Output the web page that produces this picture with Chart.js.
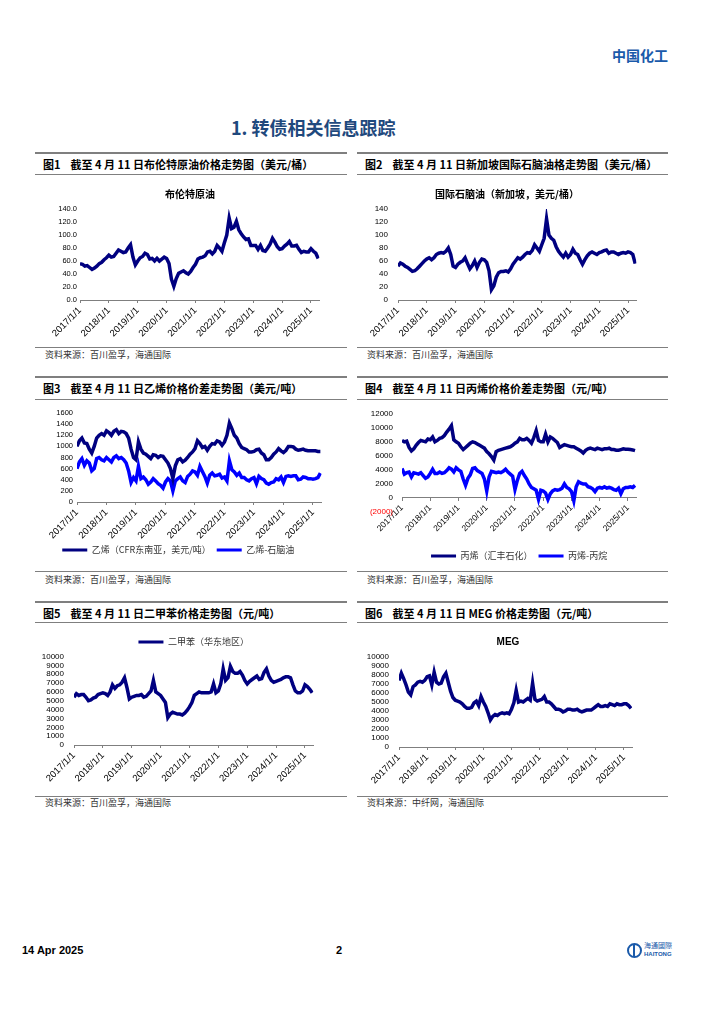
<!DOCTYPE html>
<html lang="zh-CN">
<head>
<meta charset="utf-8">
<title>中国化工 - 转债相关信息跟踪</title>
<script src="https://cdn.jsdelivr.net/npm/chart.js@4.4.1/dist/chart.umd.min.js"></script>
<style>
  html, body { margin: 0; padding: 0; background: #fff; }
  body { width: 725px; height: 1024px; position: relative; overflow: hidden;
         font-family: "Noto Sans CJK SC", "Liberation Sans", sans-serif; color: #000; }
  .abs { position: absolute; white-space: nowrap; }
  .hdr { left: 612px; top: 45px; font-size: 14px; font-weight: 700; color: #1a5aaa; line-height: 20px; }
  .sec { left: 231px; top: 114px; font-size: 18px; font-weight: 700; color: #1f497d; line-height: 26px; }
  .rule { position: absolute; height: 0; border-top: 1px solid #7f7f7f; }
  .cap { font-size: 11px; font-weight: 700; line-height: 14px; }
  .src { font-size: 9px; color: #333; line-height: 12px; }
  .ttl { font-size: 10px; font-weight: 700; line-height: 12px; transform: translateX(-50%); z-index: 2; }
  .box { position: absolute; }
  .foot { font-size: 11px; font-weight: 700; line-height: 14px; font-family: "Liberation Sans", sans-serif; }
</style>
</head>
<body>
<div class="abs hdr">中国化工</div>
<div class="abs sec">1. 转债相关信息跟踪</div>

<div class="abs ttl" style="left:190px;top:188px">布伦特原油</div>
<div class="abs ttl" style="left:507px;top:188px">国际石脑油（新加坡，美元/桶）</div>
<div class="abs ttl" style="left:508px;top:636px;font-family:'Liberation Sans',sans-serif">MEG</div>

<div class="box" style="left:35px;top:180px;width:312px;height:165px"><canvas id="c1"></canvas></div>
<div class="box" style="left:357px;top:180px;width:311px;height:165px"><canvas id="c2"></canvas></div>
<div class="box" style="left:35px;top:400px;width:312px;height:171px"><canvas id="c3"></canvas></div>
<div class="box" style="left:357px;top:400px;width:311px;height:171px"><canvas id="c4"></canvas></div>
<div class="box" style="left:35px;top:625px;width:312px;height:171px"><canvas id="c5"></canvas></div>
<div class="box" style="left:357px;top:625px;width:311px;height:171px"><canvas id="c6"></canvas></div>

<div class="abs foot" style="left:22px;top:943px">14 Apr 2025</div>
<div class="abs foot" style="left:336px;top:943px">2</div>
<div class="abs" style="left:627px;top:943px;width:15px;height:15px;border:2px solid #1a5aaa;border-radius:50%;box-sizing:border-box"></div>
<div class="abs" style="left:633px;top:944px;width:2px;height:13px;background:#1a5aaa"></div>
<div class="abs" style="left:644px;top:941px;font-size:7px;line-height:8px;color:#1a5aaa">海通國際</div>
<div class="abs" style="left:644px;top:950px;font-size:6px;line-height:8px;font-weight:700;color:#1a5aaa;font-family:'Liberation Sans',sans-serif">HAITONG</div>

<script>
// 月度数据 2017/1 - 2025/4（每年 12 个点）
const yearLabels = ["2017/1/1", "2018/1/1", "2019/1/1", "2020/1/1", "2021/1/1", "2022/1/1", "2023/1/1", "2024/1/1", "2025/1/1"];

const brent = [
  56, 55, 52, 53, 50, 47, 49, 52, 56, 58, 62, 65,
  69, 66, 67, 72, 77, 75, 73, 74, 80, 85, 66, 54,
  60, 65, 67, 72, 70, 63, 64, 60, 64, 60, 63, 66,
  64, 56, 32, 21, 33, 41, 43, 45, 42, 40, 44, 50,
  55, 63, 65, 66, 68, 74, 75, 71, 75, 84, 80, 75,
  88, 100, 126, 110, 112, 121, 108, 102, 97, 93, 94, 84,
  84, 84, 78, 84, 76, 75, 80, 86, 95, 89, 82, 78,
  79, 83, 86, 90, 83, 83, 84, 78, 73, 75, 74, 74,
  79, 75, 72, 64,
];
const naphtha = [
  52, 57, 55, 52, 50, 47, 44, 45, 48, 52, 56, 60,
  63, 65, 62, 65, 70, 72, 73, 72, 75, 80, 70, 52,
  50, 55, 58, 60, 65, 56, 48, 53, 60, 50, 58, 63,
  62, 58, 45, 16, 22, 35, 42, 44, 44, 45, 43, 48,
  55, 60, 65, 63, 66, 70, 73, 72, 76, 85, 80, 75,
  85, 95, 125, 100, 95, 92, 82, 75, 70, 66, 72, 66,
  70, 78, 72, 70, 62, 55, 62, 68, 72, 74, 72, 70,
  73, 74, 76, 77, 72, 74, 74, 72, 70, 72, 73, 72,
  74, 73, 70, 56,
];
const ethylene = [
  1000, 1100, 1150, 1060, 1050, 950, 880, 1000, 1150, 1200, 1230, 1200,
  1280, 1250, 1200, 1270, 1300, 1230, 1270, 1260, 1230, 1150, 950, 800,
  760, 1080, 950, 880, 860, 820, 780, 850, 840, 800, 830, 820,
  760, 700, 600, 420, 650, 760, 780, 720, 750, 800, 860, 900,
  960, 1100, 1050, 980, 1000, 930, 1000, 1050, 1040, 1100, 1080, 1020,
  1080, 1200, 1420, 1320, 1200, 1150, 1050, 980, 960, 940, 900, 900,
  910, 940, 950, 880, 850, 760, 760, 800, 860, 900, 960, 920,
  890, 930, 1000, 1000, 990, 950, 930, 940, 950, 930, 920, 920,
  920, 920, 910, 910,
];
const ethyleneSpread = [
  600, 720, 780, 660, 740, 700, 560, 600, 780, 800, 760, 740,
  800, 760, 720, 800, 830, 780, 800, 760, 700, 560, 350, 440,
  380, 640, 420, 450, 400, 320, 360, 420, 380, 330, 300, 250,
  360, 420, 380, 200, 380, 420, 450, 380, 350, 460, 500, 560,
  540, 480, 640, 550, 460, 340, 480, 520, 470, 480, 500, 430,
  450, 380, 740, 580, 540, 480, 520, 440, 440, 400, 380, 420,
  440, 330, 460, 420, 400, 340, 320, 350, 360, 420, 400, 450,
  350, 460, 470, 460, 470, 470, 400, 410, 450, 440, 420, 420,
  410, 420, 440, 520,
];
const propylene = [
  8200, 8000, 8100, 7200, 6700, 7000, 7500, 7900, 8200, 8100, 8000, 8400,
  8300, 8700, 8000, 8200, 8500, 8600, 8900, 9400, 9800, 10300, 8300, 8000,
  7800, 7300, 6900, 7200, 7500, 7800, 8000, 7900, 7700, 7500, 7300, 7100,
  6600, 6300, 5900, 5400, 6600, 6800, 6900, 7000, 7100, 7200, 7300, 7500,
  7800, 8000, 8500, 8300, 8300, 8500, 8200, 7800, 8600, 9600, 8200, 8000,
  8000, 9100, 8000, 8700, 8500, 8200, 7900, 7200, 7400, 7600, 7500, 7400,
  7300, 7300, 7100, 6900, 6700, 6400, 6800, 7000, 7100, 7000, 6900, 7100,
  7000, 6900, 7000, 7000, 7100, 6900, 6900, 6800, 6800, 6900, 7000, 6950,
  6950, 6900, 6850, 6750,
];
const propyleneSpread = [
  4200, 3400, 3600, 3700, 3000, 3600, 3500, 3400, 3600, 3200, 2800, 3000,
  3500, 4100, 3500, 3500, 3700, 3500, 3600, 3900, 4300, 4100, 3700, 4300,
  4000, 3800, 2700, 1800, 2800, 3300, 4200, 4300, 3900, 3700, 3500, 2700,
  1000, 3000, 3800, 3700, 3600, 3700, 3600, 3800, 4100, 3700, 3400, 3100,
  1200, 2500, 3500, 3800, 3200, 2700, 2000, 1500, 1300, 1100, -200, 1100,
  1000, 700, -200, 600, 1000, 1200, 1100, 1200, 1400, 2000, 1500, 1300,
  900, -400, 1600, 2300, 2100, 2000, 2000, 1600, 1500, 1300, 900, 1400,
  1500, 1400, 1600, 1400, 1500, 1400, 1200, 1100, 1400, 600, 1300, 1500,
  1500, 1600, 1500, 1800,
];
const xylene = [
  5400, 5800, 5600, 5700, 5700, 5400, 5000, 5100, 5300, 5400, 5700, 5800,
  5900, 5800, 5600, 6000, 6800, 6400, 6700, 6800, 7100, 7600, 6500, 5200,
  5400, 5500, 5600, 5600, 5700, 5400, 5500, 5800, 6100, 7300, 6000, 5800,
  5600, 5200, 4800, 3100, 3500, 3700, 3600, 3500, 3500, 3400, 3600, 3900,
  4300, 4800, 5600, 5800, 6000, 5900, 5900, 5900, 5900, 6000, 6900, 5900,
  6100, 6900, 8600, 7300, 7600, 8900, 8300, 8100, 8100, 8300, 7900, 7300,
  6900, 7200, 7400, 7600, 7800, 7400, 7500, 8200, 8600, 7800, 7300, 7100,
  7200, 7300, 7400, 7600, 7700, 7700, 7600, 6800, 6100, 5900, 5900, 6100,
  6800, 6600, 6300, 5900,
];
const meg = [
  7400, 8200, 7600, 6900, 6100, 5800, 6700, 6900, 7200, 7300, 7200, 7400,
  7800, 7900, 6900, 8300, 7200, 7000, 7100, 7800, 8200, 7200, 6200, 5500,
  5200, 5100, 5000, 4800, 4500, 4300, 4300, 4400, 4900, 5100, 4600, 5600,
  5000, 4500, 3800, 3000, 3400, 3600, 3500, 3700, 3800, 3700, 3800, 3700,
  4200, 4900, 6300, 5000, 5100, 5000, 5200, 5400, 5200, 7100, 5300, 5100,
  5200, 5300, 5600, 5000, 5000, 4800, 4500, 4200, 4200, 4100, 3900, 4000,
  4200, 4200, 4100, 4100, 4200, 4000, 3900, 4000, 4100, 4100, 4100, 4300,
  4500, 4700, 4500, 4500, 4600, 4500, 4800, 4700, 4600, 4800, 4700, 4700,
  4800, 4800, 4600, 4300,
];

const captions = [
  ["图1", "截至 4 月 11 日布伦特原油价格走势图（美元/桶）"],
  ["图2", "截至 4 月 11 日新加坡国际石脑油格走势图（美元/桶）"],
  ["图3", "截至 4 月 11 日乙烯价格价差走势图（美元/吨）"],
  ["图4", "截至 4 月 11 日丙烯价格价差走势图（元/吨）"],
  ["图5", "截至 4 月 11 日二甲苯价格走势图（元/吨）"],
  ["图6", "截至 4 月 11 日 MEG 价格走势图（元/吨）"],
];
const sources = [
  "资料来源：百川盈孚，海通国际", "资料来源：百川盈孚，海通国际",
  "资料来源：百川盈孚，海通国际", "资料来源：百川盈孚，海通国际",
  "资料来源：百川盈孚，海通国际", "资料来源：中纤网，海通国际",
];

/* ---- 版面：标题框线、图注、来源 ---- */
const cols = [{ x: 35, w: 312 }, { x: 357, w: 311 }];
const rows = [
  { rule: 152, cap: 157, sub: 174, end: 347, src: 349 },
  { rule: 376, cap: 381, sub: 399, end: 571, src: 574 },
  { rule: 601, cap: 606, sub: 622, end: 796, src: 797 },
];

function el(cls, style, html) {
  const d = document.createElement("div");
  d.className = cls;
  d.style.cssText = style;
  d.innerHTML = html || "";
  document.body.appendChild(d);
}

captions.forEach((c, i) => {
  const col = cols[i % 2], row = rows[Math.floor(i / 2)];
  el("rule", `left:${col.x}px;top:${row.rule}px;width:${col.w}px;border-top-width:2px`);
  el("abs cap", `left:${col.x + 8}px;top:${row.cap}px`, `${c[0]}<span style="display:inline-block;width:10px"></span>${c[1]}`);
  el("rule", `left:${col.x}px;top:${row.sub}px;width:${col.w}px`);
  el("rule", `left:${col.x}px;top:${row.end}px;width:${col.w}px`);
  el("abs src", `left:${col.x + 10}px;top:${row.src}px`, sources[i]);
});

/* ---- 图表 ---- */
const TICK_FONT = "'Liberation Sans', Arial, sans-serif";
const CJK_FONT = "'Noto Sans CJK SC', sans-serif";
const NAVY = "#000080";
const BLUE = "#0000ff";

const pts = (arr) => arr.map((v, i) => ({ x: i, y: v }));

function series(label, data, color) {
  return {
    label, data: pts(data), borderColor: color, backgroundColor: color,
    borderWidth: 3.5, pointRadius: 0, tension: 0, fill: false,
  };
}

function legendOpts(position, extra) {
  return Object.assign({
    display: true, position, fullSize: false,
    labels: {
      boxWidth: 25, boxHeight: 3, padding: 6, color: "#333",
      font: { family: CJK_FONT, size: 9 },
      generateLabels: (chart) =>
        Chart.defaults.plugins.legend.labels.generateLabels(chart).map((l) => ({ ...l, lineWidth: 0 })),
    },
  }, extra);
}

function lineChart(id, o) {
  return new Chart(document.getElementById(id), {
    type: "line",
    data: { datasets: o.datasets },
    options: {
      responsive: true,
      maintainAspectRatio: false,
      animation: false,
      events: [],
      layout: { padding: o.pad },
      plugins: {
        legend: o.legend || { display: false },
        tooltip: { enabled: false },
      },
      scales: {
        x: {
          type: "linear", min: 0, max: 99.5, position: o.xPos || "bottom",
          ticks: {
            stepSize: 12, autoSkip: false, includeBounds: false,
            minRotation: 45, maxRotation: 45, padding: 2,
            font: { family: TICK_FONT, size: o.xFont || 9.5 }, color: "#000",
            callback: (v) => yearLabels[v / 12] || "",
          },
          grid: { drawOnChartArea: false, drawTicks: true, tickLength: 3, color: "#7f7f7f" },
          border: { display: true, color: "#7f7f7f" },
          afterFit: (s) => { s.height = o.xH; },
        },
        y: {
          min: o.y[0], max: o.y[1],
          ticks: {
            stepSize: o.y[2], padding: o.yPad, autoSkip: false,
            font: { family: TICK_FONT, size: o.yFont }, color: o.yColor || "#000",
            callback: o.yFmt || ((v) => String(v)),
          },
          grid: { display: false, drawTicks: false },
          border: { display: false },
          afterFit: (s) => { s.width = o.yW; },
        },
      },
    },
  });
}

lineChart("c1", {
  datasets: [series("布伦特原油", brent, NAVY)],
  y: [0, 140, 20], yFmt: (v) => v.toFixed(1), yFont: 7.5, yPad: 3, yW: 45,
  pad: { left: 0, right: 27.6, top: 29, bottom: 0 }, xH: 45,
});

lineChart("c2", {
  datasets: [series("国际石脑油（新加坡，美元/桶）", naphtha, NAVY)],
  y: [0, 140, 20], yFont: 8, yPad: 10, yW: 41,
  pad: { left: 0, right: 31.6, top: 29, bottom: 0 }, xH: 45,
});

lineChart("c3", {
  datasets: [
    series("乙烯（CFR东南亚，美元/吨）", ethylene, NAVY),
    series("乙烯-石脑油", ethyleneSpread, BLUE),
  ],
  y: [0, 1600, 200], yFont: 7.5, yPad: 4, yW: 42,
  pad: { left: 0, right: 25.4, top: 13, bottom: 6.5 }, xH: 37.5,
  legend: legendOpts("bottom", { fullSize: true }),
});

lineChart("c4", {
  datasets: [
    series("丙烯（汇丰石化）", propylene, NAVY),
    series("丙烯-丙烷", propyleneSpread, BLUE),
  ],
  y: [-2000, 12000, 2000], yFont: 8, yPad: 9, yW: 45,
  yFmt: (v) => (v < 0 ? `(${-v})` : String(v)),
  yColor: (ctx) => (ctx.tick && ctx.tick.value < 0 ? "#ff0000" : "#000"),
  xPos: { y: 0 }, xFont: 8.5,
  pad: { left: 0, right: 31.8, top: 9, bottom: 0.5 }, xH: 0,
  legend: legendOpts("bottom", {
    title: { display: true, text: " ", padding: { top: 32.3, bottom: 0 }, font: { size: 1 } },
  }),
});

lineChart("c5", {
  datasets: [series("二甲苯（华东地区）", xylene, NAVY)],
  y: [0, 10000, 1000], yFont: 8, yPad: 10, yW: 39,
  pad: { left: 0, right: 33.6, top: 6.5, bottom: 6 }, xH: 45,
  legend: legendOpts("top"),
});

lineChart("c6", {
  datasets: [series("MEG", meg, NAVY)],
  y: [0, 10000, 1000], yFont: 8, yPad: 10, yW: 42,
  pad: { left: 0, right: 35.8, top: 32, bottom: 4 }, xH: 45,
});
</script>
</body>
</html>
